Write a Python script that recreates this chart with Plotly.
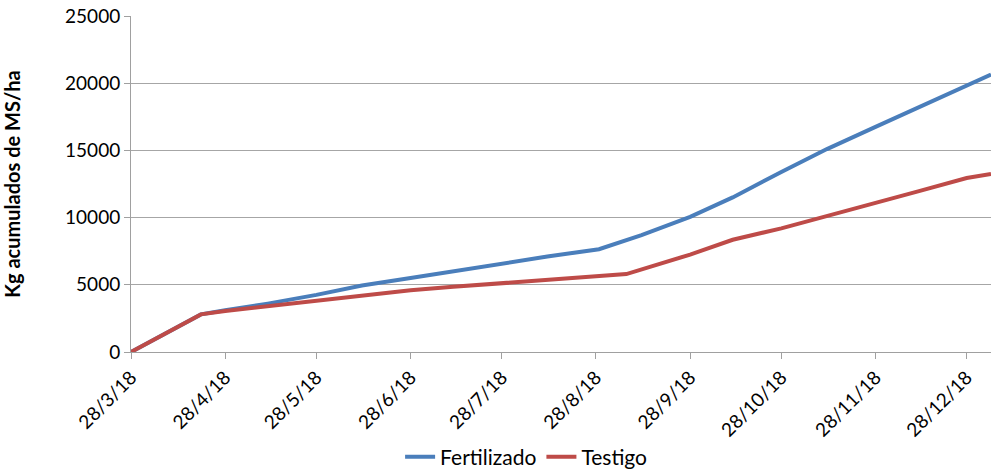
import plotly.graph_objects as go

fert_dates = ["2018-03-28", "2018-04-20", "2018-04-28", "2018-05-12", "2018-05-28",
              "2018-06-12", "2018-06-28", "2018-07-12", "2018-07-28", "2018-08-12",
              "2018-08-29", "2018-09-12", "2018-09-28", "2018-10-12",
              "2018-10-28", "2018-11-12", "2018-11-28", "2018-12-12", "2018-12-28",
              "2019-01-05"]
fertilizado = [0, 2800, 3100, 3600, 4250, 4950, 5500, 6000, 6600, 7100,
               7650, 8700, 10050, 11500, 13400, 15100, 16750, 18200,
               19900, 20650]

test_dates = ["2018-03-28", "2018-04-20", "2018-04-28", "2018-05-12", "2018-05-28",
              "2018-06-12", "2018-06-28", "2018-07-12", "2018-07-28", "2018-08-12",
              "2018-08-28", "2018-09-07", "2018-09-28", "2018-10-12",
              "2018-10-28", "2018-11-12", "2018-11-28", "2018-12-12", "2018-12-28",
              "2019-01-05"]
testigo = [0, 2800, 3050, 3400, 3800, 4200, 4600, 4850, 5100, 5350,
           5600, 5800, 7250, 8350, 9200, 10100, 11100, 11950,
           12950, 13250]

tick_dates = ["2018-03-28", "2018-04-28", "2018-05-28", "2018-06-28", "2018-07-28",
              "2018-08-28", "2018-09-28", "2018-10-28", "2018-11-28", "2018-12-28"]
tick_labels = ["28/3/18", "28/4/18", "28/5/18", "28/6/18", "28/7/18",
               "28/8/18", "28/9/18", "28/10/18", "28/11/18", "28/12/18"]

font_family = "Lato, Open Sans, sans-serif"

fig = go.Figure()
fig.add_trace(go.Scatter(x=fert_dates, y=fertilizado, mode="lines", name="Fertilizado",
                         line=dict(color="#4a7ebb", width=4)))
fig.add_trace(go.Scatter(x=test_dates, y=testigo, mode="lines", name="Testigo",
                         line=dict(color="#be4b48", width=4)))

fig.update_layout(
    width=991, height=470,
    margin=dict(l=131, r=0, t=16, b=118, autoexpand=False),
    paper_bgcolor="white", plot_bgcolor="white",
    font=dict(family=font_family, size=19, color="#000000"),
    showlegend=True,
    legend=dict(orientation="h", x=0.46, y=-0.3125, xanchor="center", yanchor="middle",
                font=dict(size=21), tracegroupgap=0),
    xaxis=dict(type="date", range=["2018-03-28", "2019-01-05"], automargin=False,
               tickvals=tick_dates, ticktext=tick_labels, tickangle=-45,
               showgrid=False, showline=True, linecolor="#a0a0a0", linewidth=1,
               ticks="outside", tickcolor="#a0a0a0", ticklen=6,
               ticklabeloverflow="allow",
               tickfont=dict(size=19)),
    yaxis=dict(range=[0, 25000], dtick=5000, tickformat="d", automargin=False,
               showgrid=True, gridcolor="#a6a6a6",
               gridwidth=1, showline=True, linecolor="#a0a0a0", zeroline=False,
               ticks="outside", tickcolor="#a0a0a0", ticklen=6,
               ticklabeloverflow="allow",
               tickfont=dict(size=19),
               title=dict(text="<b>Kg acumulados de MS/ha</b>", font=dict(size=20),
                          standoff=40)),
)

fig.write_html("out.html", config={"displayModeBar": False},
               post_script="document.body.style.margin='0';")
